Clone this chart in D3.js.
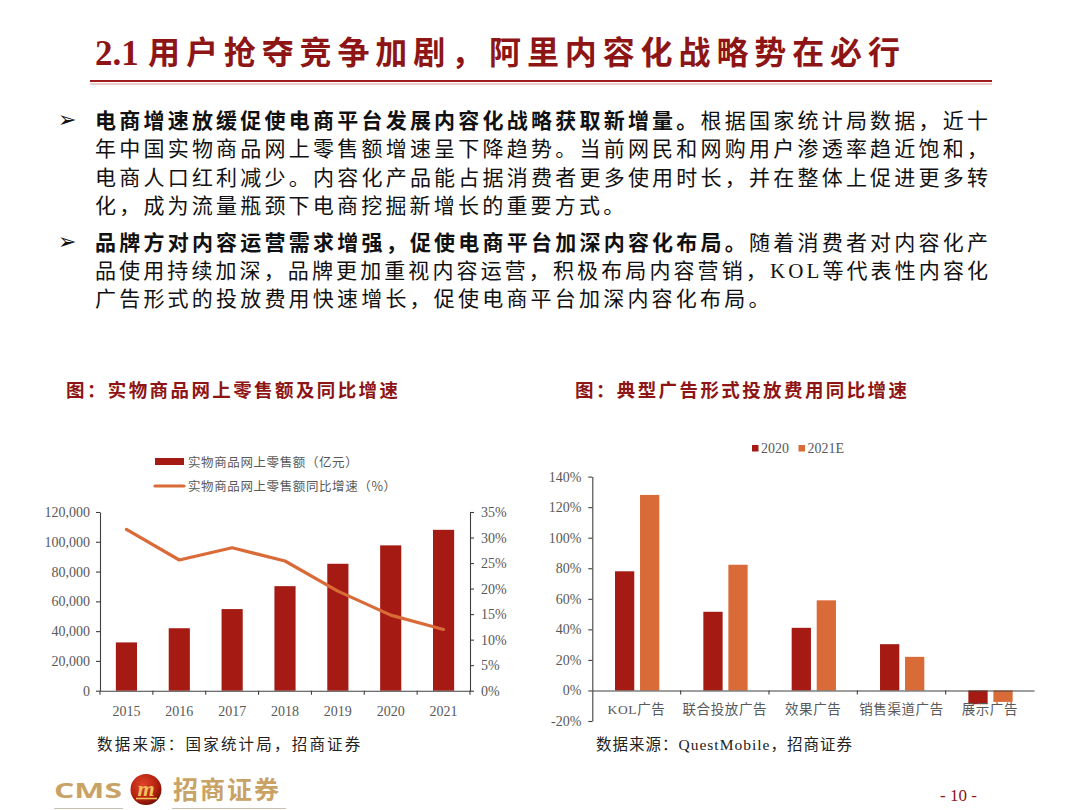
<!DOCTYPE html>
<html><head><meta charset="utf-8">
<script src="https://cdn.jsdelivr.net/npm/d3@7/dist/d3.min.js"></script>
<style>
html,body{margin:0;padding:0;background:#fff;}
svg{display:block;}
</style></head>
<body>
<svg id="page" width="1080" height="810"></svg>
<script>
// ---------- data ----------
const years = ["2015","2016","2017","2018","2019","2020","2021"];
const salesValues = [32424, 41944, 54806, 70198, 85239, 97590, 108042];
const growthValues = [31.6, 25.6, 28.0, 25.4, 19.5, 14.8, 12.0];
const salesTicks = [0, 20000, 40000, 60000, 80000, 100000, 120000];
const growthTicks = [0, 5, 10, 15, 20, 25, 30, 35];

const adCategories = ["KOL广告","联合投放广告","效果广告","销售渠道广告","展示广告"];
const adSeries = ["2020","2021E"];
const ad2020 = [78, 51.5, 41, 30.3, -9];
const ad2021E = [128, 82.3, 59, 22, -7.5];
const adTicks = [-20, 0, 20, 40, 60, 80, 100, 120, 140];

const titleNum = "2.1";
const titleText = "用户抢夺竞争加剧，阿里内容化战略势在必行";
const bullets = [
  [ [{b:"电商增速放缓促使电商平台发展内容化战略获取新增量。"},{t:"根据国家统计局数据，近十"}],
    [{t:"年中国实物商品网上零售额增速呈下降趋势。当前网民和网购用户渗透率趋近饱和，"}],
    [{t:"电商人口红利减少。内容化产品能占据消费者更多使用时长，并在整体上促进更多转"}],
    [{t:"化，成为流量瓶颈下电商挖掘新增长的重要方式。"}] ],
  [ [{b:"品牌方对内容运营需求增强，促使电商平台加深内容化布局。"},{t:"随着消费者对内容化产"}],
    [{t:"品使用持续加深，品牌更加重视内容运营，积极布局内容营销，KOL等代表性内容化"}],
    [{t:"广告形式的投放费用快速增长，促使电商平台加深内容化布局。"}] ]
];
const fullLine = [[true,true,true,false],[true,true,false]];

// ---------- styles ----------
const RED = "#A51A12", ORANGE = "#D96B38", TITLE = "#8E1515";
const CJK = "'Noto Sans CJK SC','Noto Sans',sans-serif";
const SERIF = "'Liberation Serif','Times New Roman',serif";
const MIX = `'Liberation Serif',${CJK}`;
const GREY = "#595959";

const svg = d3.select("#page");

// ---------- header ----------
svg.append("text").attr("x", 95).attr("y", 65)
  .attr("font-family", SERIF).attr("font-weight", 700)
  .attr("font-size", 35).attr("fill", TITLE).text(titleNum);
svg.append("text").attr("x", 148).attr("y", 64)
  .attr("font-family", CJK).attr("font-weight", 700)
  .attr("font-size", 32).attr("fill", TITLE).attr("textLength", 752).attr("lengthAdjust", "spacing")
  .text(titleText);
svg.append("line").attr("x1", 90).attr("x2", 992).attr("y1", 81).attr("y2", 81)
  .attr("stroke", "#9E1B1B").attr("stroke-width", 2.2);
svg.append("line").attr("x1", 90).attr("x2", 992).attr("y1", 84).attr("y2", 84)
  .attr("stroke", "#C98080").attr("stroke-width", 0.8);

// ---------- bullets ----------
const lineStart = 95, lineEnd = 988, lineH = 28.4;
let baseY = [128, 249.5];
bullets.forEach((para, pi) => {
  svg.append("text").attr("x", 58).attr("y", baseY[pi] - 1)
    .attr("font-family", "'DejaVu Sans',sans-serif").attr("font-size", 22)
    .attr("fill", "#111").text("➢");
  para.forEach((segs, li) => {
    const t = svg.append("text").attr("x", lineStart).attr("y", baseY[pi] + li * lineH)
      .attr("font-family", MIX).attr("font-size", 21).attr("fill", "#111");
    if (fullLine[pi][li]) {
      t.attr("textLength", lineEnd - lineStart).attr("lengthAdjust", "spacing");
    } else {
      t.attr("letter-spacing", 3.2);
    }
    segs.forEach(s => {
      if (s.b) t.append("tspan").attr("font-weight", 700).attr("font-family", CJK).text(s.b);
      else t.append("tspan").text(s.t);
    });
  });
});

// ---------- chart titles ----------
function chartTitle(x, txt) {
  svg.append("text").attr("x", x).attr("y", 397)
    .attr("font-family", CJK).attr("font-weight", 700).attr("font-size", 18.5)
    .attr("letter-spacing", 2.4).attr("fill", TITLE).text(txt);
}
chartTitle(66, "图：实物商品网上零售额及同比增速");
chartTitle(575, "图：典型广告形式投放费用同比增速");

// ---------- left chart ----------
const L = {x0: 100, x1: 470, y0: 690.7, y1: 512};
const xL = d3.scaleBand().domain(years).range([L.x0, L.x1]).paddingInner(0.6).paddingOuter(0.3);
const yL = d3.scaleLinear().domain([0, 120000]).range([L.y0, L.y1]);
const yR = d3.scaleLinear().domain([0, 35]).range([L.y0, L.y1]);
const gL = svg.append("g");

gL.selectAll("rect.bar").data(years).join("rect").attr("class", "bar")
  .attr("x", d => xL(d)).attr("width", xL.bandwidth())
  .attr("y", (d, i) => yL(salesValues[i])).attr("height", (d, i) => yL(0) - yL(salesValues[i]))
  .attr("fill", RED);

const line = d3.line().x((d, i) => xL(years[i]) + xL.bandwidth() / 2).y(d => yR(d));
gL.append("path").datum(growthValues).attr("d", line)
  .attr("fill", "none").attr("stroke", ORANGE).attr("stroke-width", 3.2)
  .attr("stroke-linecap", "round").attr("stroke-linejoin", "round");

function styleAxis(g) {
  g.selectAll("path.domain").attr("stroke", "#404040").attr("stroke-width", 1.1);
  g.selectAll(".tick line").attr("stroke", "#404040").attr("stroke-width", 1.1);
  g.selectAll(".tick text").attr("fill", GREY).attr("font-family", SERIF).attr("font-size", 14);
}
const axL = gL.append("g").attr("transform", `translate(${L.x0},0)`)
  .call(d3.axisLeft(yL).tickValues(salesTicks).tickSize(4).tickSizeOuter(0).tickPadding(6)
    .tickFormat(d3.format(",")));
styleAxis(axL);
const axR = gL.append("g").attr("transform", `translate(${L.x1},0)`)
  .call(d3.axisRight(yR).tickValues(growthTicks).tickSize(4).tickSizeOuter(0).tickPadding(7)
    .tickFormat(d => d + "%"));
styleAxis(axR);
const axB = gL.append("g").attr("transform", `translate(0,${L.y0})`)
  .call(d3.axisBottom(xL).tickSize(0).tickSizeOuter(0).tickPadding(15));
styleAxis(axB);
const stepL = xL.step();
const boundsL = d3.range(years.length + 1).map(i => L.x0 + i * stepL);
axB.selectAll("line.bnd").data(boundsL).join("line").attr("class", "bnd")
  .attr("x1", d => d).attr("x2", d => d).attr("y1", 0).attr("y2", 4)
  .attr("stroke", "#404040").attr("stroke-width", 1.1);

// left legend
const legL = svg.append("g");
legL.append("rect").attr("x", 155).attr("y", 458).attr("width", 29).attr("height", 7).attr("fill", RED);
legL.append("text").attr("x", 188).attr("y", 466.5).attr("font-family", CJK).attr("font-size", 12.5)
  .attr("letter-spacing", 0.6).attr("fill", GREY).text("实物商品网上零售额（亿元）");
legL.append("line").attr("x1", 155).attr("x2", 184).attr("y1", 486).attr("y2", 486)
  .attr("stroke", ORANGE).attr("stroke-width", 3.2).attr("stroke-linecap", "round");
legL.append("text").attr("x", 188).attr("y", 490.5).attr("font-family", CJK).attr("font-size", 12.5)
  .attr("letter-spacing", 0.6).attr("fill", GREY).text("实物商品网上零售额同比增速（%）");

// ---------- right chart ----------
const R = {x0: 592.3, x1: 1034, y0: 721, y1: 476.6};
const x0R = d3.scaleBand().domain(adCategories).range([R.x0, R.x1]);
const x1R = d3.scaleBand().domain(adSeries).range([22.7, 67]).paddingInner(0.23);
const yAd = d3.scaleLinear().domain([-20, 140]).range([R.y0, R.y1]);
const gR = svg.append("g");
const adValues = {"2020": ad2020, "2021E": ad2021E};
const adColor = d3.scaleOrdinal().domain(adSeries).range([RED, ORANGE]);

const groups = gR.selectAll("g.grp").data(adCategories).join("g").attr("class", "grp")
  .attr("transform", d => `translate(${x0R(d)},0)`);
groups.selectAll("rect").data((d, i) => adSeries.map(s => ({s, v: adValues[s][i]}))).join("rect")
  .attr("x", d => x1R(d.s)).attr("width", x1R.bandwidth())
  .attr("y", d => yAd(Math.max(0, d.v))).attr("height", d => Math.abs(yAd(d.v) - yAd(0)))
  .attr("fill", d => adColor(d.s));

const axAd = gR.append("g").attr("transform", `translate(${R.x0},0)`)
  .call(d3.axisLeft(yAd).tickValues(adTicks).tickSize(4).tickSizeOuter(0).tickPadding(7)
    .tickFormat(d => d + "%"));
styleAxis(axAd);
const axAdB = gR.append("g").attr("transform", `translate(0,${yAd(0)})`)
  .call(d3.axisBottom(x0R).tickSize(0).tickSizeOuter(0).tickPadding(14));
styleAxis(axAdB);
axAdB.selectAll(".tick text").attr("font-family", MIX)
  .attr("font-size", 13.5).attr("letter-spacing", 0.6);
const boundsR = d3.range(1, adCategories.length).map(i => R.x0 + i * x0R.step());
axAdB.selectAll("line.bnd").data(boundsR).join("line").attr("class", "bnd")
  .attr("x1", d => d).attr("x2", d => d).attr("y1", 0).attr("y2", 4)
  .attr("stroke", "#404040").attr("stroke-width", 1.1);

// right legend
const legR = svg.append("g").attr("transform", "translate(752,445)");
const legItems = legR.selectAll("g").data(adSeries).join("g")
  .attr("transform", (d, i) => `translate(${i * 46.5},0)`);
legItems.append("rect").attr("width", 6.5).attr("height", 6.5).attr("fill", d => adColor(d));
legItems.append("text").attr("x", 9).attr("y", 7.5).attr("font-family", SERIF).attr("font-size", 14)
  .attr("fill", GREY).text(d => d);

// ---------- sources ----------
svg.append("text").attr("x", 97).attr("y", 750).attr("font-family", MIX)
  .attr("font-size", 15.5).attr("letter-spacing", 2.2).attr("fill", "#222").text("数据来源：国家统计局，招商证券");
svg.append("text").attr("x", 596).attr("y", 750).attr("font-family", MIX)
  .attr("font-size", 15.5).attr("letter-spacing", 1.0).attr("fill", "#222").text("数据来源：QuestMobile，招商证券");

// ---------- footer logo ----------
const GOLD = "#C9A266";
const defs = svg.append("defs");
const rg = defs.append("radialGradient").attr("id", "logoGrad").attr("cx", "40%").attr("cy", "35%").attr("r", "65%");
rg.append("stop").attr("offset", "0%").attr("stop-color", "#E0452A");
rg.append("stop").attr("offset", "70%").attr("stop-color", "#B5200F");
rg.append("stop").attr("offset", "100%").attr("stop-color", "#7A1208");
svg.append("text").attr("x", 54).attr("y", 798).attr("font-family", "'Open Sans','DejaVu Sans',sans-serif")
  .attr("font-weight", 700).attr("font-size", 22).attr("textLength", 68).attr("lengthAdjust", "spacingAndGlyphs")
  .attr("fill", GOLD).text("CMS");
svg.append("circle").attr("cx", 146).attr("cy", 789.5).attr("r", 15.5).attr("fill", "url(#logoGrad)");
svg.append("text").attr("x", 146).attr("y", 796).attr("text-anchor", "middle")
  .attr("font-family", SERIF).attr("font-style", "italic").attr("font-weight", 700)
  .attr("font-size", 22).attr("fill", "#F2C15A").text("m");
svg.append("line").attr("x1", 136).attr("x2", 157).attr("y1", 798.5).attr("y2", 798.5)
  .attr("stroke", "#F2C15A").attr("stroke-width", 1.6);
svg.append("text").attr("x", 173).attr("y", 799).attr("font-family", CJK).attr("font-weight", 700)
  .attr("font-size", 25).attr("letter-spacing", 2).attr("fill", GOLD).text("招商证券");
svg.append("line").attr("x1", 54).attr("x2", 123).attr("y1", 808.5).attr("y2", 808.5).attr("stroke", "#C8C0B0").attr("stroke-width", 1);
svg.append("line").attr("x1", 172).attr("x2", 286).attr("y1", 808.5).attr("y2", 808.5).attr("stroke", "#C8C0B0").attr("stroke-width", 1);

svg.append("text").attr("x", 940).attr("y", 801).attr("font-family", SERIF).attr("font-size", 17)
  .attr("fill", TITLE).text("- 10 -");
</script>
</body></html>
